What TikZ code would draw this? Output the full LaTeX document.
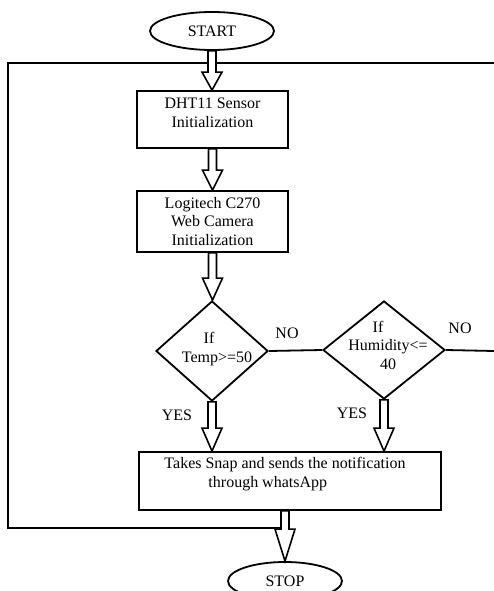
\documentclass[tikz,border=0pt]{standalone}
\usepackage{fontspec}
\setmainfont{Liberation Serif}
\usetikzlibrary{shapes.geometric,calc}
\newcommand\blockarr[3]{%
  \path[blockarrow] let \p1=(#1), \p2=(#2) in
    (\x1-4pt,\y1) -- (\x1-4pt,\y2+#3) -- (\x1-10pt,\y2+#3) -- (\x1,\y2)
    -- (\x1+10pt,\y2+#3) -- (\x1+4pt,\y2+#3) -- (\x1+4pt,\y1) -- cycle;}
\begin{document}
\begin{tikzpicture}[x=1pt,y=-1pt,
  every node/.style={font=\fontsize{16}{18.5}\selectfont},
  line/.style={line width=1.8pt},
  term/.style={ellipse,draw,line width=1.8pt,inner sep=0pt},
  proc/.style={rectangle,draw,line width=1.8pt,inner sep=0pt,align=center},
  dec/.style={diamond,draw,line width=1.8pt,inner sep=0pt},
  txt/.style={inner sep=0pt,align=center},
  blockarrow/.style={draw,fill=white,line width=1.6pt,line join=miter}
]
\useasboundingbox (0,0) rectangle (494,591);
\begin{scope}
\clip (0,0) rectangle (494,591);
% nodes
\node[term,minimum width=124pt,minimum height=38pt] (start) at (212,31) {START};
\node[proc,minimum width=151pt,minimum height=57pt] (b1) at (212.5,119.5) {};
\node[txt] (t1) at (212.5,113) {DHT11 Sensor\\Initialization};
\node[proc,minimum width=151pt,minimum height=61pt] (b2) at (212.5,221.5) {Logitech C270\\Web Camera\\Initialization};
\node[dec,minimum width=112pt,minimum height=100pt] (d1) at (212,351) {};
\node[txt] (t3) at (217,349) {If\hspace*{16pt}\\Temp>=50};
\node[dec,minimum width=122pt,minimum height=98pt] (d2) at (384,350) {};
\node[txt] (t4) at (388,345) {If\hspace*{20pt}\\Humidity<=\\40};
\node[txt] (no1) at (287,333) {NO};
\node[txt] (no2) at (460,328) {NO};
\node[txt] (yes1) at (177,415) {YES};
\node[txt] (yes2) at (352,413) {YES};
\node[proc,minimum width=302pt,minimum height=58pt] (act) at (290,481) {};
\node[txt,align=left] (t5) at (285,474) {Takes Snap and sends the notification\\\hspace*{44pt}through whatsApp};
\node[term,minimum width=114pt,minimum height=38pt] (stop) at (285,581) {STOP};
% connectors
\coordinate (rtop) at (494,63);
\coordinate (ltop) at (8,63);
\coordinate (lbot) at (8,528);
\coordinate (rno) at (494,351);
\draw[line] (rtop) -- (ltop) -- (lbot) -- (lbot -| stop.north);
\draw[line] (d1.east) -- (d2.west);
\draw[line] (d2.east) -- (rno);
\blockarr{start.south}{b1.north}{18pt}
\blockarr{b1.south}{b2.north}{20pt}
\blockarr{b2.south}{d1.north}{22pt}
\blockarr{d1.south}{act.north -| d1.south}{23pt}
\blockarr{d2.south}{act.north -| d2.south}{23pt}
\blockarr{act.south -| stop.north}{stop.north}{32pt}
\end{scope}
\end{tikzpicture}
\end{document}
